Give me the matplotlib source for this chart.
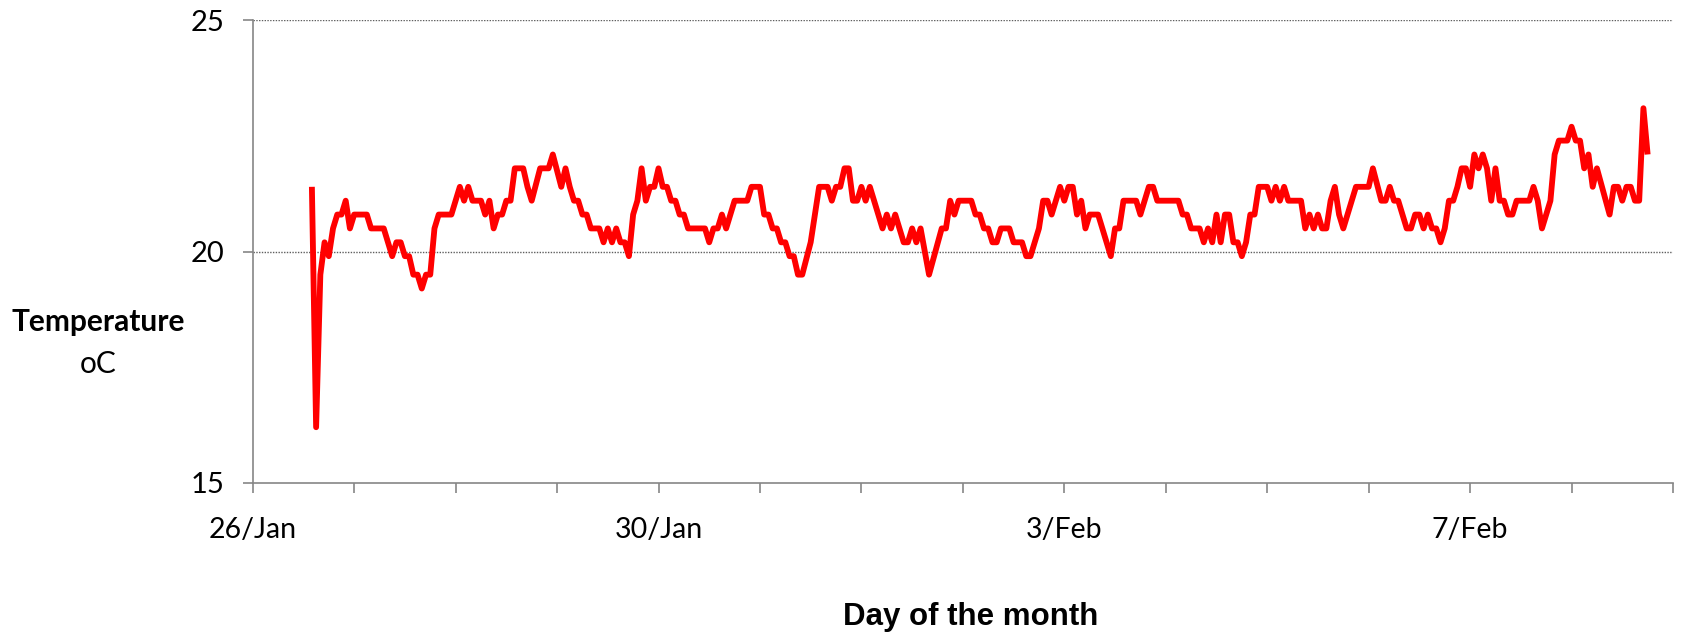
import datetime as dt
import matplotlib
matplotlib.use("Agg")
import matplotlib.pyplot as plt
import matplotlib.dates as mdates
from matplotlib.ticker import FixedLocator

# Hours after 26/Jan 00:00 at which the reading changes slope, and the temperature (oC)
hours = [14, 15, 16, 17, 18, 19, 20, 21, 22, 23, 24, 27, 28, 31, 33, 34, 35, 36, 37, 38,
         39, 40, 41, 42, 43, 44, 47, 48, 49, 50, 51, 52, 54, 55, 56, 57, 58, 59, 60, 61,
         62, 64, 65, 66, 68, 70, 71, 73, 74, 75, 76, 77, 78, 79, 80, 82, 83, 84, 85, 86,
         87, 88, 89, 90, 91, 92, 93, 94, 95, 96, 97, 98, 99, 100, 101, 102, 103, 107, 108,
         109, 110, 111, 112, 114, 117, 118, 120, 121, 122, 123, 124, 125, 126, 127, 128,
         129, 130, 132, 134, 136, 137, 138, 139, 140, 141, 142, 143, 144, 145, 146, 149,
         150, 151, 152, 154, 155, 156, 157, 158, 160, 163, 164, 165, 166, 167, 170, 171,
         172, 173, 174, 175, 176, 177, 179, 180, 182, 183, 184, 186, 187, 188, 189, 191,
         192, 193, 194, 195, 196, 197, 198, 200, 203, 204, 205, 206, 209, 210, 212, 213,
         214, 219, 220, 221, 222, 224, 225, 226, 227, 228, 229, 230, 231, 232, 233, 234,
         235, 236, 237, 238, 240, 241, 242, 243, 244, 245, 248, 249, 250, 251, 252, 253,
         254, 255, 256, 257, 258, 261, 264, 265, 267, 268, 269, 270, 271, 273, 274, 275,
         276, 277, 278, 279, 280, 281, 282, 283, 284, 285, 286, 287, 288, 289, 290, 291,
         292, 293, 294, 295, 296, 297, 298, 299, 302, 303, 304, 305, 306, 307, 308, 309,
         311, 312, 313, 314, 315, 316, 317, 318, 321, 322, 323, 324, 325, 326, 327, 328,
         329, 330]
temps = [21.4, 16.2, 19.5, 20.2, 19.9, 20.5, 20.8, 20.8, 21.1, 20.5, 20.8, 20.8, 20.5, 20.5,
         19.9, 20.2, 20.2, 19.9, 19.9, 19.5, 19.5, 19.2, 19.5, 19.5, 20.5, 20.8, 20.8, 21.1,
         21.4, 21.1, 21.4, 21.1, 21.1, 20.8, 21.1, 20.5, 20.8, 20.8, 21.1, 21.1, 21.8, 21.8,
         21.4, 21.1, 21.8, 21.8, 22.1, 21.4, 21.8, 21.4, 21.1, 21.1, 20.8, 20.8, 20.5, 20.5,
         20.2, 20.5, 20.2, 20.5, 20.2, 20.2, 19.9, 20.8, 21.1, 21.8, 21.1, 21.4, 21.4, 21.8,
         21.4, 21.4, 21.1, 21.1, 20.8, 20.8, 20.5, 20.5, 20.2, 20.5, 20.5, 20.8, 20.5, 21.1,
         21.1, 21.4, 21.4, 20.8, 20.8, 20.5, 20.5, 20.2, 20.2, 19.9, 19.9, 19.5, 19.5, 20.2,
         21.4, 21.4, 21.1, 21.4, 21.4, 21.8, 21.8, 21.1, 21.1, 21.4, 21.1, 21.4, 20.5, 20.8,
         20.5, 20.8, 20.2, 20.2, 20.5, 20.2, 20.5, 19.5, 20.5, 20.5, 21.1, 20.8, 21.1, 21.1,
         20.8, 20.8, 20.5, 20.5, 20.2, 20.2, 20.5, 20.5, 20.2, 20.2, 19.9, 19.9, 20.5, 21.1,
         21.1, 20.8, 21.4, 21.1, 21.4, 21.4, 20.8, 21.1, 20.5, 20.8, 20.8, 19.9, 20.5, 20.5,
         21.1, 21.1, 20.8, 21.4, 21.4, 21.1, 21.1, 20.8, 20.8, 20.5, 20.5, 20.2, 20.5, 20.2,
         20.8, 20.2, 20.8, 20.8, 20.2, 20.2, 19.9, 20.2, 20.8, 20.8, 21.4, 21.4, 21.1, 21.4,
         21.1, 21.4, 21.1, 21.1, 20.5, 20.8, 20.5, 20.8, 20.5, 20.5, 21.1, 21.4, 20.8, 20.5,
         21.4, 21.4, 21.8, 21.1, 21.1, 21.4, 21.1, 21.1, 20.5, 20.5, 20.8, 20.8, 20.5, 20.8,
         20.5, 20.5, 20.2, 20.5, 21.1, 21.1, 21.4, 21.8, 21.8, 21.4, 22.1, 21.8, 22.1, 21.8,
         21.1, 21.8, 21.1, 21.1, 20.8, 20.8, 21.1, 21.1, 21.4, 21.1, 20.5, 20.8, 21.1, 22.1,
         22.4, 22.4, 22.7, 22.4, 22.4, 21.8, 22.1, 21.4, 21.8, 20.8, 21.4, 21.4, 21.1, 21.4,
         21.4, 21.1, 21.1, 23.1, 22.1]

x_start = dt.datetime(2010, 1, 26)
x_end = dt.datetime(2010, 2, 9)
y_ticks = [15, 20, 25]
major_days = [dt.datetime(2010, 1, 26), dt.datetime(2010, 1, 30),
              dt.datetime(2010, 2, 3), dt.datetime(2010, 2, 7)]
major_labels = ["26/Jan", "30/Jan", "3/Feb", "7/Feb"]

times = [x_start + dt.timedelta(hours=h) for h in hours]

fig = plt.figure(figsize=(16.82, 6.38), dpi=100)
ax = fig.add_axes([0.15024, 0.24342, 0.84441, 0.72461])

ax.plot(times, temps, color="#FF0000", linewidth=4.2, solid_joinstyle="round",
        solid_capstyle="butt", zorder=3)

ax.set_xlim(x_start, x_end)
ax.set_ylim(15, 25)

for y in [20, 25]:
    ax.axhline(y, color="#5f5f5f", linewidth=1.0, linestyle=(0, (1, 1)), zorder=1)

for s in ["top", "right"]:
    ax.spines[s].set_visible(False)
for s in ["left", "bottom"]:
    ax.spines[s].set_color("#868686")
    ax.spines[s].set_linewidth(1.2)

ax.set_yticks(y_ticks)
ax.set_yticklabels([str(v) for v in y_ticks])
ax.tick_params(axis="y", direction="out", length=7.5, width=1.2, color="#868686",
               pad=13, labelsize=21)
for t in ax.get_yticklabels():
    t.set_fontfamily("Lato")

ax.xaxis.set_major_locator(FixedLocator(mdates.date2num(major_days)))
ax.set_xticklabels(major_labels)
ax.xaxis.set_minor_locator(mdates.DayLocator())
ax.tick_params(axis="x", which="both", direction="out", length=7.5, width=1.2,
               color="#868686", pad=17, labelsize=20.5)
for t in ax.get_xticklabels():
    t.set_fontfamily("Lato")

fig.text(98 / 1682, 1 - 322 / 638, "Temperature", ha="center", va="center",
         fontsize=21.5, fontweight="bold", family="Lato")
fig.text(98 / 1682, 1 - 364 / 638, "oC", ha="center", va="center",
         fontsize=21.5, family="Lato")
fig.text(971 / 1682, 1 - 617 / 638, "Day of the month", ha="center", va="center",
         fontsize=22.5, fontweight="bold", family="Liberation Sans")

fig.savefig("out.png", dpi=100, facecolor="white")
